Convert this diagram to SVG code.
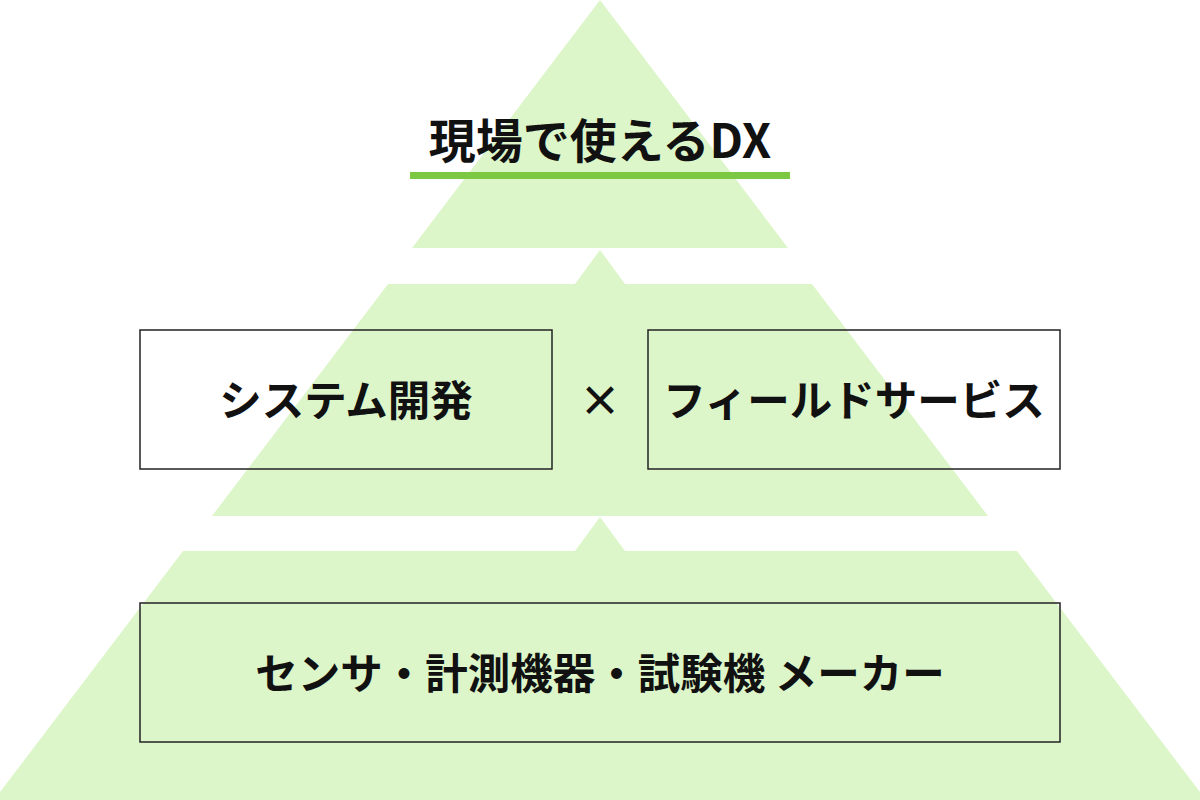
<svg xmlns="http://www.w3.org/2000/svg" width="1200" height="800" viewBox="0 0 1200 800">
<style>
.tier{fill:#dcf6c9}
.box{fill:none;stroke:#222;stroke-width:1.5}
.t{font-family:"Noto Sans CJK JP","Noto Sans",sans-serif;font-weight:bold;fill:#111;text-anchor:middle}
</style>
<rect width="1200" height="800" fill="#fff"/>
<g id="tier-top"><polygon class="tier" points="600,0 788,248 412,248"/></g>
<g id="tier-middle"><polygon class="tier" points="600,250 625,284 812,284 988,516 212,516 388,284 575,284"/></g>
<g id="tier-bottom"><polygon class="tier" points="600,517 625,551 1017,551 1206,800 -6,800 183,551 575,551"/></g>
<g id="title">
<text class="t" x="600" y="158" font-size="47">現場で使えるDX</text>
<rect x="410" y="172" width="380" height="7" fill="#7dc843"/>
</g>
<g id="system"><rect class="box" x="140" y="330" width="412" height="139"/><text class="t" x="346" y="416" font-size="42.5">システム開発</text></g>
<g id="times"><text class="t" x="600" y="416" font-size="42">×</text></g>
<g id="field"><rect class="box" x="648" y="330" width="412" height="139"/><text class="t" x="854" y="416" font-size="42.5">フィールドサービス</text></g>
<g id="maker"><rect class="box" x="140" y="603" width="920" height="139"/><text class="t" x="600" y="689" font-size="42.5">センサ・計測機器・試験機 メーカー</text></g>
<g id="connectors"></g>
</svg>
